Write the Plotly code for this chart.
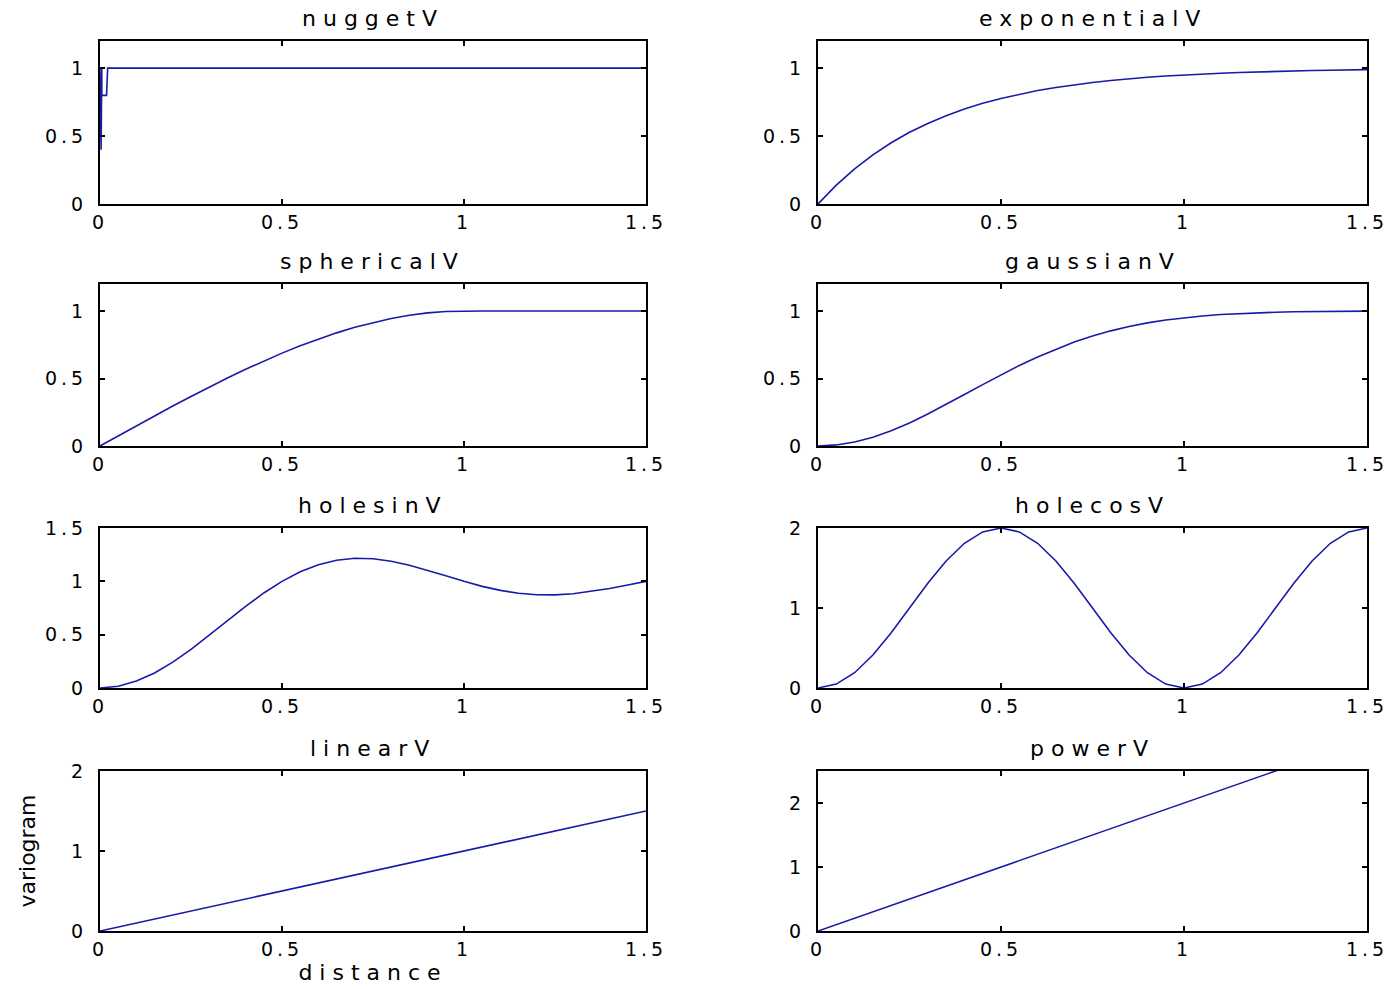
import plotly.graph_objects as go

# ---------------- data ----------------
X = [0.0, 0.05, 0.1, 0.15, 0.2, 0.25, 0.3, 0.35, 0.4, 0.45, 0.5,
     0.55, 0.6, 0.65, 0.7, 0.75, 0.8, 0.85, 0.9, 0.95, 1.0,
     1.05, 1.1, 1.15, 1.2, 1.25, 1.3, 1.35, 1.4, 1.45, 1.5]

nugget_x = [0.0, 0.003, 0.005, 0.005, 0.018, 0.02, 0.021, 1.5]
nugget_y = [1.0, 0.4, 1.0, 0.8, 0.8, 1.0, 1.0, 1.0]

exponential_y = [0.0, 0.139, 0.259, 0.362, 0.451, 0.528, 0.593, 0.650, 0.699, 0.741, 0.777,
                 0.808, 0.835, 0.858, 0.878, 0.895, 0.909, 0.922, 0.933, 0.942, 0.950,
                 0.957, 0.963, 0.968, 0.973, 0.976, 0.980, 0.983, 0.985, 0.987, 0.989]

spherical_y = [0.0, 0.075, 0.150, 0.223, 0.296, 0.367, 0.437, 0.504, 0.568, 0.629, 0.688,
               0.742, 0.792, 0.838, 0.879, 0.914, 0.944, 0.968, 0.986, 0.996, 1.0,
               1.0, 1.0, 1.0, 1.0, 1.0, 1.0, 1.0, 1.0, 1.0, 1.0]

gaussian_y = [0.0, 0.008, 0.030, 0.065, 0.113, 0.171, 0.237, 0.307, 0.381, 0.455, 0.528,
              0.597, 0.660, 0.718, 0.770, 0.815, 0.853, 0.885, 0.912, 0.933, 0.950,
              0.963, 0.974, 0.981, 0.987, 0.991, 0.994, 0.996, 0.997, 0.998, 0.999]

holesin_y = [0.0, 0.016, 0.065, 0.141, 0.243, 0.363, 0.495, 0.632, 0.766, 0.891, 1.0,
             1.089, 1.156, 1.198, 1.216, 1.212, 1.189, 1.151, 1.104, 1.052, 1.0,
             0.953, 0.915, 0.888, 0.874, 0.873, 0.884, 0.905, 0.933, 0.966, 1.0]

holecos_y = [0.0, 0.049, 0.191, 0.412, 0.691, 1.0, 1.309, 1.588, 1.809, 1.951, 2.0,
             1.951, 1.809, 1.588, 1.309, 1.0, 0.691, 0.412, 0.191, 0.049, 0.0,
             0.049, 0.191, 0.412, 0.691, 1.0, 1.309, 1.588, 1.809, 1.951, 2.0]

linear_y = [0.0, 0.05, 0.1, 0.15, 0.2, 0.25, 0.3, 0.35, 0.4, 0.45, 0.5,
            0.55, 0.6, 0.65, 0.7, 0.75, 0.8, 0.85, 0.9, 0.95, 1.0,
            1.05, 1.1, 1.15, 1.2, 1.25, 1.3, 1.35, 1.4, 1.45, 1.5]

power_y = [0.0, 0.1, 0.2, 0.3, 0.4, 0.5, 0.6, 0.7, 0.8, 0.9, 1.0,
           1.1, 1.2, 1.3, 1.4, 1.5, 1.6, 1.7, 1.8, 1.9, 2.0,
           2.1, 2.2, 2.3, 2.4, 2.5, 2.6, 2.7, 2.8, 2.9, 3.0]

titles = ["nuggetV", "exponentialV", "sphericalV", "gaussianV",
          "holesinV", "holecosV", "linearV", "powerV"]

x_ticks = [0, 0.5, 1, 1.5]
x_ticklabels = ["0", "0.5", "1", "1.5"]

y_ranges = [[0, 1.2], [0, 1.2], [0, 1.2], [0, 1.2],
            [0, 1.5], [0, 2], [0, 2], [0, 2.5]]
y_ticks = [[0, 0.5, 1], [0, 0.5, 1], [0, 0.5, 1], [0, 0.5, 1],
           [0, 0.5, 1, 1.5], [0, 1, 2], [0, 1, 2], [0, 1, 2]]
y_ticklabels = [["0", "0.5", "1"], ["0", "0.5", "1"], ["0", "0.5", "1"], ["0", "0.5", "1"],
                ["0", "0.5", "1", "1.5"], ["0", "1", "2"], ["0", "1", "2"], ["0", "1", "2"]]

x_title = "distance"
y_title = "variogram"

series_x = [nugget_x, X, X, X, X, X, X, X]
series_y = [nugget_y, exponential_y, spherical_y, gaussian_y,
            holesin_y, holecos_y, linear_y, power_y]

# ---------------- layout helpers ----------------
W, H = 1397, 989
col_px = [(100, 646), (818, 1367)]
row_px = [(41, 204), (284, 446), (528, 688), (771, 931)]

FONT = "DejaVu Sans"
LINE_COLOR = "#1a1aa8"
TICK_SIZE = 19
TICK_LS = 4
TITLE_SIZE = 22
TITLE_LS = 7


def spaced(s, ls):
    return '<span style="letter-spacing:%dpx">%s</span>' % (ls, s)


fig = go.Figure()
layout = dict(
    template="none",
    width=W, height=H,
    margin=dict(l=0, r=0, t=0, b=0, pad=0),
    paper_bgcolor="white", plot_bgcolor="white",
    showlegend=False,
    font=dict(family=FONT, color="black", size=TICK_SIZE),
    annotations=[],
)

for i in range(8):
    r, c = divmod(i, 2)
    n = i + 1
    xa = "xaxis" if n == 1 else "xaxis%d" % n
    ya = "yaxis" if n == 1 else "yaxis%d" % n
    xref = "x" if n == 1 else "x%d" % n
    yref = "y" if n == 1 else "y%d" % n
    x0, x1 = col_px[c]
    t0, t1 = row_px[r]
    layout[xa] = dict(
        domain=[x0 / W, x1 / W], anchor=yref, range=[0, 1.5], automargin=False,
        showgrid=False, zeroline=False, showline=True, linecolor="black", linewidth=2,
        mirror="ticks", ticks="inside", ticklen=5, tickwidth=1.5, tickcolor="black",
        tickmode="array", tickvals=x_ticks,
        ticktext=[spaced(s, TICK_LS) for s in x_ticklabels],
        tickfont=dict(family=FONT, size=TICK_SIZE, color="black"),
        ticklabelstandoff=0,
    )
    layout[ya] = dict(
        domain=[1 - t1 / H, 1 - t0 / H], anchor=xref, range=y_ranges[i], automargin=False,
        showgrid=False, zeroline=False, showline=True, linecolor="black", linewidth=2,
        mirror="ticks", ticks="inside", ticklen=5, tickwidth=1.5, tickcolor="black",
        tickmode="array", tickvals=y_ticks[i],
        ticktext=[spaced(s, TICK_LS) for s in y_ticklabels[i]],
        tickfont=dict(family=FONT, size=TICK_SIZE, color="black"),
        ticklabelstandoff=7,
    )
    fig.add_trace(go.Scatter(x=series_x[i], y=series_y[i], mode="lines",
                             line=dict(color=LINE_COLOR, width=1.6),
                             xaxis=xref, yaxis=yref, hoverinfo="skip"))
    layout["annotations"].append(dict(
        text=spaced(titles[i], TITLE_LS), xref="paper", yref="paper",
        x=(x0 + x1) / 2 / W, y=1 - t0 / H, xanchor="center", yanchor="middle",
        yshift=23, showarrow=False, font=dict(family=FONT, size=TITLE_SIZE, color="black"),
    ))

layout["xaxis7"]["title"] = dict(text=spaced(x_title, TITLE_LS), standoff=2,
                                 font=dict(family=FONT, size=TITLE_SIZE, color="black"))
layout["yaxis7"]["title"] = dict(text=y_title, standoff=29,
                                 font=dict(family=FONT, size=22, color="black"))

fig.update_layout(**layout)
fig.write_html("out.html")
